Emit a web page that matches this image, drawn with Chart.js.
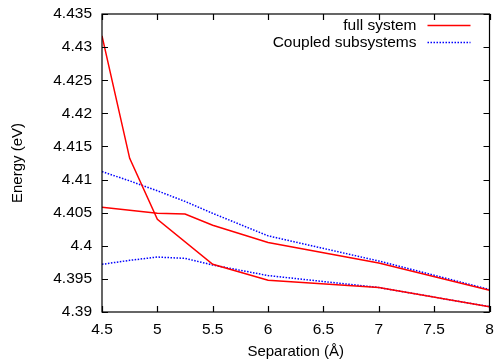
<!DOCTYPE html>
<html>
<head>
<meta charset="utf-8">
<script src="https://cdn.jsdelivr.net/npm/chart.js@4/dist/chart.umd.min.js"></script>
<style>
html,body{margin:0;padding:0;background:#fff;}
#wrap{width:497px;height:361px;}
</style>
</head>
<body>
<div id="wrap"><canvas id="c" width="497" height="361"></canvas></div>
<script>
// ---- data ----
const separation = [4.5, 4.75, 5, 5.25, 5.5, 6, 7, 8];
const fullUpper = [4.4317, 4.4132, 4.4040, null, 4.3972, 4.3948, 4.3937, 4.3908];
const fullLower = [4.4058, null, 4.4049, 4.4048, 4.4031, 4.4005, 4.3974, 4.3933];
const coupledUpper = [4.4112, 4.4098, 4.4083, 4.4067, 4.4049, 4.4015, 4.3977, 4.3934];
const coupledLower = [4.3972, 4.3978, 4.3983, 4.3981, 4.3971, 4.3955, 4.3937, 4.3908];
const seriesNames = ['full system', 'Coupled subsystems'];
const xTickValues = [4.5, 5, 5.5, 6, 6.5, 7, 7.5, 8];
const xTickLabels = ['4.5', '5', '5.5', '6', '6.5', '7', '7.5', '8'];
const yTickValues = [4.39, 4.395, 4.4, 4.405, 4.41, 4.415, 4.42, 4.425, 4.43, 4.435];
const yTickLabels = ['4.39', '4.395', '4.4', '4.405', '4.41', '4.415', '4.42', '4.425', '4.43', '4.435'];
const xTitle = 'Separation (Å)';
const yTitle = 'Energy (eV)';

const FONT = "'Liberation Sans', Arial, Helvetica, sans-serif";
const RED = '#ff0000';
const BLUE = '#0000ff';

function pts(ys) { return separation.map((x, i) => ({x: x, y: ys[i]})); }

const solid = {borderColor: RED, borderWidth: 1.5, pointRadius: 0, fill: false, tension: 0, spanGaps: true};
const dotted = {borderColor: BLUE, borderWidth: 1.5, borderDash: [1.5, 1.5], pointRadius: 0, fill: false, tension: 0, spanGaps: true};

const framePlugin = {
  id: 'frame',
  afterDatasetsDraw(chart) {
    const ctx = chart.ctx, a = chart.chartArea;
    const xs = chart.scales.x, ys = chart.scales.y;
    ctx.save();
    ctx.strokeStyle = '#000';
    ctx.lineWidth = 1.2;
    ctx.beginPath();
    const L = 6;
    xTickValues.forEach(v => {
      const px = Math.round(xs.getPixelForValue(v)) + 0.5;
      ctx.moveTo(px, a.bottom); ctx.lineTo(px, a.bottom - L);
      ctx.moveTo(px, a.top); ctx.lineTo(px, a.top + L);
    });
    yTickValues.forEach(v => {
      const py = Math.round(ys.getPixelForValue(v)) + 0.5;
      ctx.moveTo(a.left, py); ctx.lineTo(a.left + L, py);
      ctx.moveTo(a.right, py); ctx.lineTo(a.right - L, py);
    });
    ctx.stroke();
    ctx.strokeRect(a.left, a.top, a.right - a.left, a.bottom - a.top);
    // legend
    ctx.font = '15.5px ' + FONT;
    ctx.fillStyle = '#000';
    ctx.textAlign = 'right';
    ctx.textBaseline = 'middle';
    const rows = [
      {name: seriesNames[0], color: RED, dash: []},
      {name: seriesNames[1], color: BLUE, dash: [1.5, 1.5]}
    ];
    rows.forEach((r, i) => {
      const y = a.top + 11.5 + i * 17;
      ctx.fillText(r.name, a.right - 73, y);
      ctx.beginPath();
      ctx.strokeStyle = r.color;
      ctx.lineWidth = 1.5;
      ctx.setLineDash(r.dash);
      ctx.moveTo(a.right - 62, y);
      ctx.lineTo(a.right - 19, y);
      ctx.stroke();
      ctx.setLineDash([]);
    });
    ctx.restore();
  }
};

new Chart(document.getElementById('c'), {
  type: 'line',
  data: {
    datasets: [
      Object.assign({label: seriesNames[0], data: pts(fullUpper)}, solid),
      Object.assign({label: seriesNames[0] + ' 2', data: pts(fullLower)}, solid),
      Object.assign({label: seriesNames[1], data: pts(coupledUpper)}, dotted),
      Object.assign({label: seriesNames[1] + ' 2', data: pts(coupledLower)}, dotted)
    ]
  },
  options: {
    responsive: false,
    animation: false,
    devicePixelRatio: 1,
    layout: {padding: {top: 14, right: 7.5, left: 0, bottom: 0}},
    plugins: {legend: {display: false}, tooltip: {enabled: false}},
    scales: {
      x: {
        type: 'linear', min: 4.5, max: 8,
        afterBuildTicks(s) { s.ticks = xTickValues.map(v => ({value: v})); },
        afterFit(s) { s.height = 49; s.paddingLeft = 0; s.paddingRight = 0; },
        grid: {display: false, drawTicks: false},
        border: {display: false},
        ticks: {
          padding: 8, color: '#000', maxRotation: 0, autoSkip: false,
          font: {family: FONT, size: 15.5},
          callback: (v, i) => xTickLabels[i]
        },
        title: {display: true, text: xTitle, color: '#000', font: {family: FONT, size: 15}, padding: {top: 0, bottom: 0}}
      },
      y: {
        type: 'linear', min: 4.39, max: 4.435,
        afterBuildTicks(s) { s.ticks = yTickValues.map(v => ({value: v})); },
        afterFit(s) { s.width = 102; s.paddingTop = 0; s.paddingBottom = 0; },
        grid: {display: false, drawTicks: false},
        border: {display: false},
        ticks: {
          padding: 10, color: '#000', autoSkip: false,
          font: {family: FONT, size: 15.5},
          callback: (v, i) => yTickLabels[i]
        },
        title: {display: true, text: yTitle, color: '#000', font: {family: FONT, size: 15}, padding: {top: 9, bottom: 0}}
      }
    }
  },
  plugins: [framePlugin]
});
</script>
</body>
</html>
